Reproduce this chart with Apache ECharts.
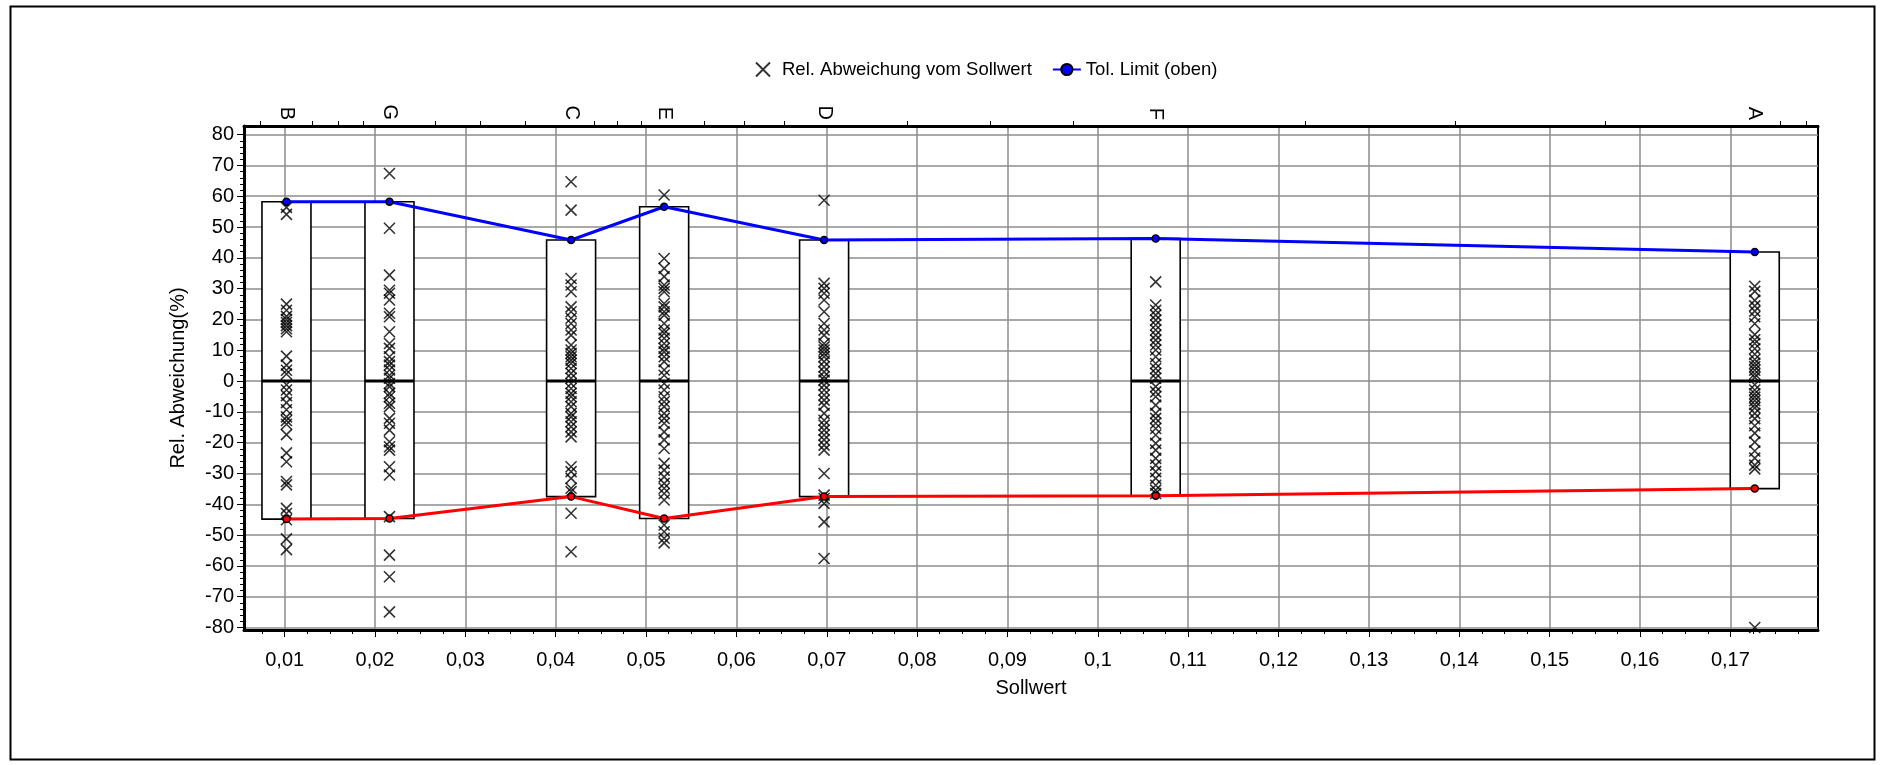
<!DOCTYPE html>
<html><head><meta charset="utf-8">
<script src="https://cdn.jsdelivr.net/npm/echarts@6/dist/echarts.min.js"></script>
<style>html,body{margin:0;padding:0;background:#fff}#c{width:1881px;height:765px}</style>
</head><body><div id="c"></div>
<script>
// ---- data ----
const catLabels = ['B', 'G', 'C', 'E', 'D', 'F', 'A'];
const catX = [0.0102, 0.0216, 0.0417, 0.0520, 0.0697, 0.1064, 0.1727];
const upperLimit = [58.2, 58.2, 45.8, 56.6, 45.8, 46.3, 41.9];
const lowerLimit = [-44.8, -44.6, -37.5, -44.6, -37.5, -37.2, -34.9];
const targetLine = [0, 0, 0, 0, 0, 0, 0];

const devB = [56.4, 54.1, 25, 23, 21, 20, 19, 18, 17, 16, 8.1, 5.2, 3.5, 2.3, -1.2, -2.9, -4.7, -7, -9.3, -11.6, -12.8, -14, -17.4, -23.3, -26.2, -32.6, -33.7, -41.3, -43, -45, -51.2, -54.7];
const devG = [67.4, 49.6, 34.4, 29.5, 28.5, 26.3, 22, 20.9, 16, 12.2, 10.6, 7.9, 6.3, 5.2, 3.6, 1.9, 0.9, -0.8, -1.8, -4, -5.1, -7.2, -8.3, -12.1, -13.7, -15.9, -19.7, -21.3, -22.4, -27.8, -30.5, -44, -56.5, -63.5, -74.9];
const devC = [64.7, 55.5, 33.3, 31.2, 29, 24.1, 22.5, 20.4, 18.7, 16.6, 14.9, 11.7, 10.1, 9, 7.9, 6.8, 5.7, 4.1, 2.5, 0.9, -0.8, -2.4, -4, -5.1, -6.7, -8.3, -10.5, -11.6, -13.2, -14.8, -16.5, -18.1, -27.8, -29.4, -31.6, -34.8, -35.9, -42.9, -55.4];
const devE = [60.4, 39.8, 36.6, 33.9, 31.2, 30.1, 29, 25.2, 24.1, 22.5, 21.4, 18.7, 16.6, 15.5, 13.9, 12.2, 10.6, 9.5, 7.9, 6.3, 3.6, 1.9, -0.8, -2.9, -5.1, -6.7, -8.3, -10.5, -12.1, -13.7, -16.5, -19.1, -21.9, -26.7, -28.9, -31.1, -33.2, -34.8, -36.5, -38.6, -46.7, -48.9, -51, -52.5];
const devD = [58.7, 31.7, 30.1, 28.5, 26.3, 22.5, 18.7, 16.6, 14.9, 12.2, 11.1, 10.1, 9, 7.9, 6.3, 4.6, 3, 1.4, 0.3, -1.3, -2.9, -4.5, -6.2, -7.8, -10.5, -12.7, -14.3, -15.9, -17.5, -19.1, -20.8, -22.4, -30, -37, -38.1, -39.7, -45.7, -57.6];
const devF = [32.2, 24.7, 23, 21.4, 19.8, 18.2, 16.6, 14.9, 13.3, 11.7, 10.1, 7.9, 5.7, 4.1, 2.5, 0.9, -1.8, -3.5, -5.1, -7.8, -10.5, -12.1, -13.7, -15.4, -17.5, -20.2, -22.4, -25.1, -27.3, -29.4, -31.6, -33.8, -35.4, -36.5];
const devA = [30.8, 29.1, 26.2, 24.4, 22.7, 20.9, 18.6, 15.1, 13.4, 12.2, 10.5, 8.7, 7, 5.8, 4.7, 3.5, 2.3, 1.2, -1.2, -2.9, -4.1, -5.2, -6.4, -7.6, -8.7, -10.5, -12.2, -14.5, -16.9, -19.8, -22.7, -25, -27.3, -28.5, -80];

const xTickValues = [0.01, 0.02, 0.03, 0.04, 0.05, 0.06, 0.07, 0.08, 0.09, 0.1, 0.11, 0.12, 0.13, 0.14, 0.15, 0.16, 0.17];
const yTickValues = [-80, -70, -60, -50, -40, -30, -20, -10, 0, 10, 20, 30, 40, 50, 60, 70, 80];
const xRange = [0.0055, 0.1797];
const yRange = [-80.8, 82.8];

// ---- derived ----
const devByCat = [devB, devG, devC, devE, devD, devF, devA];
const scatterData = [];
devByCat.forEach((arr, i) => arr.forEach(v => scatterData.push([catX[i], v])));
const boxData = catX.map((x, i) => [x, lowerLimit[i], upperLimit[i], targetLine[i]]);
const upperData = catX.map((x, i) => [x, upperLimit[i]]);
const lowerData = catX.map((x, i) => [x, lowerLimit[i]]);

const xMinor = [];
for (let k = 1; k < xTickValues.length * 4 + 4; k++) {
  const v = xTickValues[0] - 0.01 + k * 0.0025;
  if (k % 4 !== 0 && v > xRange[0] && v < xRange[1]) xMinor.push(+v.toFixed(5));
}
const yMinor = [];
for (let v = yTickValues[0]; v <= yTickValues[yTickValues.length - 1]; v += 2) {
  if (v % 10 !== 0) yMinor.push(v);
}
const topTicks = [];
const q0 = (catX[1] - catX[0]) / 4;
if (catX[0] - q0 > xRange[0]) topTicks.push(catX[0] - q0);
for (let i = 0; i < catX.length - 1; i++) {
  const d = (catX[i + 1] - catX[i]) / 4;
  for (let j = 1; j < 4; j++) topTicks.push(catX[i] + d * j);
}
for (let v = catX[catX.length - 1] + q0; v < xRange[1]; v += q0) topTicks.push(v);

const FONT = "'Liberation Sans', Arial, sans-serif";
const fmtX = v => String(+v.toFixed(3)).replace('.', ',');
const axisText = { color: '#000', fontSize: 20, fontFamily: FONT };

const chart = echarts.init(document.getElementById('c'), null, { renderer: 'canvas' });
chart.setOption({
  animation: false,
  backgroundColor: '#fff',
  graphic: [{
    type: 'rect', left: 8, top: 4, silent: true,
    shape: { width: 1864, height: 753 },
    style: { fill: 'none', stroke: '#000', lineWidth: 2 }
  }],
  legend: {
    data: ['Rel. Abweichung vom Sollwert', 'Tol. Limit (oben)'],
    left: 750, top: 55, itemWidth: 28, itemHeight: 14, itemGap: 20,
    textStyle: { fontSize: 18.5, color: '#000', fontFamily: FONT },
    selectedMode: false
  },
  grid: {
    left: 244, right: 63, top: 126, bottom: 135,
    show: true, backgroundColor: '#fff', borderColor: '#000', borderWidth: 2
  },
  xAxis: [
    {
      type: 'value', position: 'bottom', min: xRange[0], max: xRange[1],
      axisLine: { show: true, onZero: false, lineStyle: { color: '#000', width: 3 } },
      axisTick: { show: true, customValues: xTickValues, length: 7, lineStyle: { color: '#000', width: 1 } },
      axisLabel: { customValues: xTickValues, formatter: fmtX, margin: 20, ...axisText },
      splitLine: { show: true, lineStyle: { color: '#8c8c8c', width: 1.5 } },
      name: 'Sollwert', nameLocation: 'middle', nameGap: 48,
      nameTextStyle: { ...axisText }
    },
    {
      type: 'value', position: 'bottom', min: xRange[0], max: xRange[1],
      axisLine: { show: false, onZero: false },
      axisTick: { show: true, customValues: xMinor, length: 4, lineStyle: { color: '#000', width: 1 } },
      axisLabel: { show: false }, splitLine: { show: false }
    },
    {
      type: 'value', position: 'top', min: xRange[0], max: xRange[1],
      axisLine: { show: true, onZero: false, lineStyle: { color: '#000', width: 3 } },
      axisTick: { show: true, customValues: topTicks, length: 5, lineStyle: { color: '#000', width: 1 } },
      axisLabel: {
        customValues: catX, rotate: 90, margin: 6,
        formatter: v => { const i = catX.findIndex(c => Math.abs(c - v) < 1e-9); return i >= 0 ? catLabels[i] : ''; },
        ...axisText
      },
      splitLine: { show: false }
    }
  ],
  yAxis: [
    {
      type: 'value', position: 'left', min: yRange[0], max: yRange[1],
      axisLine: { show: true, onZero: false, lineStyle: { color: '#000', width: 3 } },
      axisTick: { show: true, customValues: yTickValues, length: 7, lineStyle: { color: '#000', width: 1 } },
      axisLabel: { customValues: yTickValues, margin: 10, ...axisText },
      splitLine: { show: true, lineStyle: { color: '#8c8c8c', width: 1.5 } },
      name: 'Rel. Abweichung(%)', nameLocation: 'middle', nameGap: 56,
      nameTextStyle: { ...axisText }
    },
    {
      type: 'value', position: 'left', min: yRange[0], max: yRange[1],
      axisLine: { show: false, onZero: false },
      axisTick: { show: true, customValues: yMinor, length: 4, lineStyle: { color: '#000', width: 1 } },
      axisLabel: { show: false }, splitLine: { show: false }
    }
  ],
  series: [
    {
      name: 'Tol. Box', type: 'custom', xAxisIndex: 0, yAxisIndex: 0, z: 2, silent: true,
      data: boxData,
      renderItem: (params, api) => {
        const x = api.value(0), lo = api.value(1), hi = api.value(2), md = api.value(3);
        const pT = api.coord([x, hi]), pB = api.coord([x, lo]), pM = api.coord([x, md]);
        const w = 49;
        return {
          type: 'group', children: [
            { type: 'rect', shape: { x: pT[0] - w / 2, y: pT[1], width: w, height: pB[1] - pT[1] },
              style: { fill: '#fff', stroke: '#000', lineWidth: 1.6 } },
            { type: 'line', shape: { x1: pM[0] - w / 2, y1: pM[1], x2: pM[0] + w / 2, y2: pM[1] },
              style: { stroke: '#000', lineWidth: 3 } }
          ]
        };
      }
    },
    {
      name: 'Rel. Abweichung vom Sollwert', type: 'scatter', xAxisIndex: 0, yAxisIndex: 0, z: 3,
      symbol: 'path://M0,0L10,10M10,0L0,10', symbolSize: 11,
      itemStyle: { color: 'rgba(0,0,0,0)', borderColor: '#000', borderWidth: 1.6 },
      emphasis: { disabled: true },
      data: scatterData
    },
    {
      name: 'Tol. Limit (oben)', type: 'line', xAxisIndex: 0, yAxisIndex: 0, z: 4,
      symbol: 'circle', symbolSize: 7, showSymbol: true,
      itemStyle: { color: '#0000ff', borderColor: '#000', borderWidth: 1.5 },
      lineStyle: { color: '#0000ff', width: 3 },
      emphasis: { disabled: true },
      data: upperData
    },
    {
      name: 'Tol. Limit (unten)', type: 'line', xAxisIndex: 0, yAxisIndex: 0, z: 4,
      symbol: 'circle', symbolSize: 7, showSymbol: true,
      itemStyle: { color: '#ff0000', borderColor: '#000', borderWidth: 1.5 },
      lineStyle: { color: '#ff0000', width: 3 },
      emphasis: { disabled: true },
      data: lowerData
    }
  ]
});
</script>
</body></html>
